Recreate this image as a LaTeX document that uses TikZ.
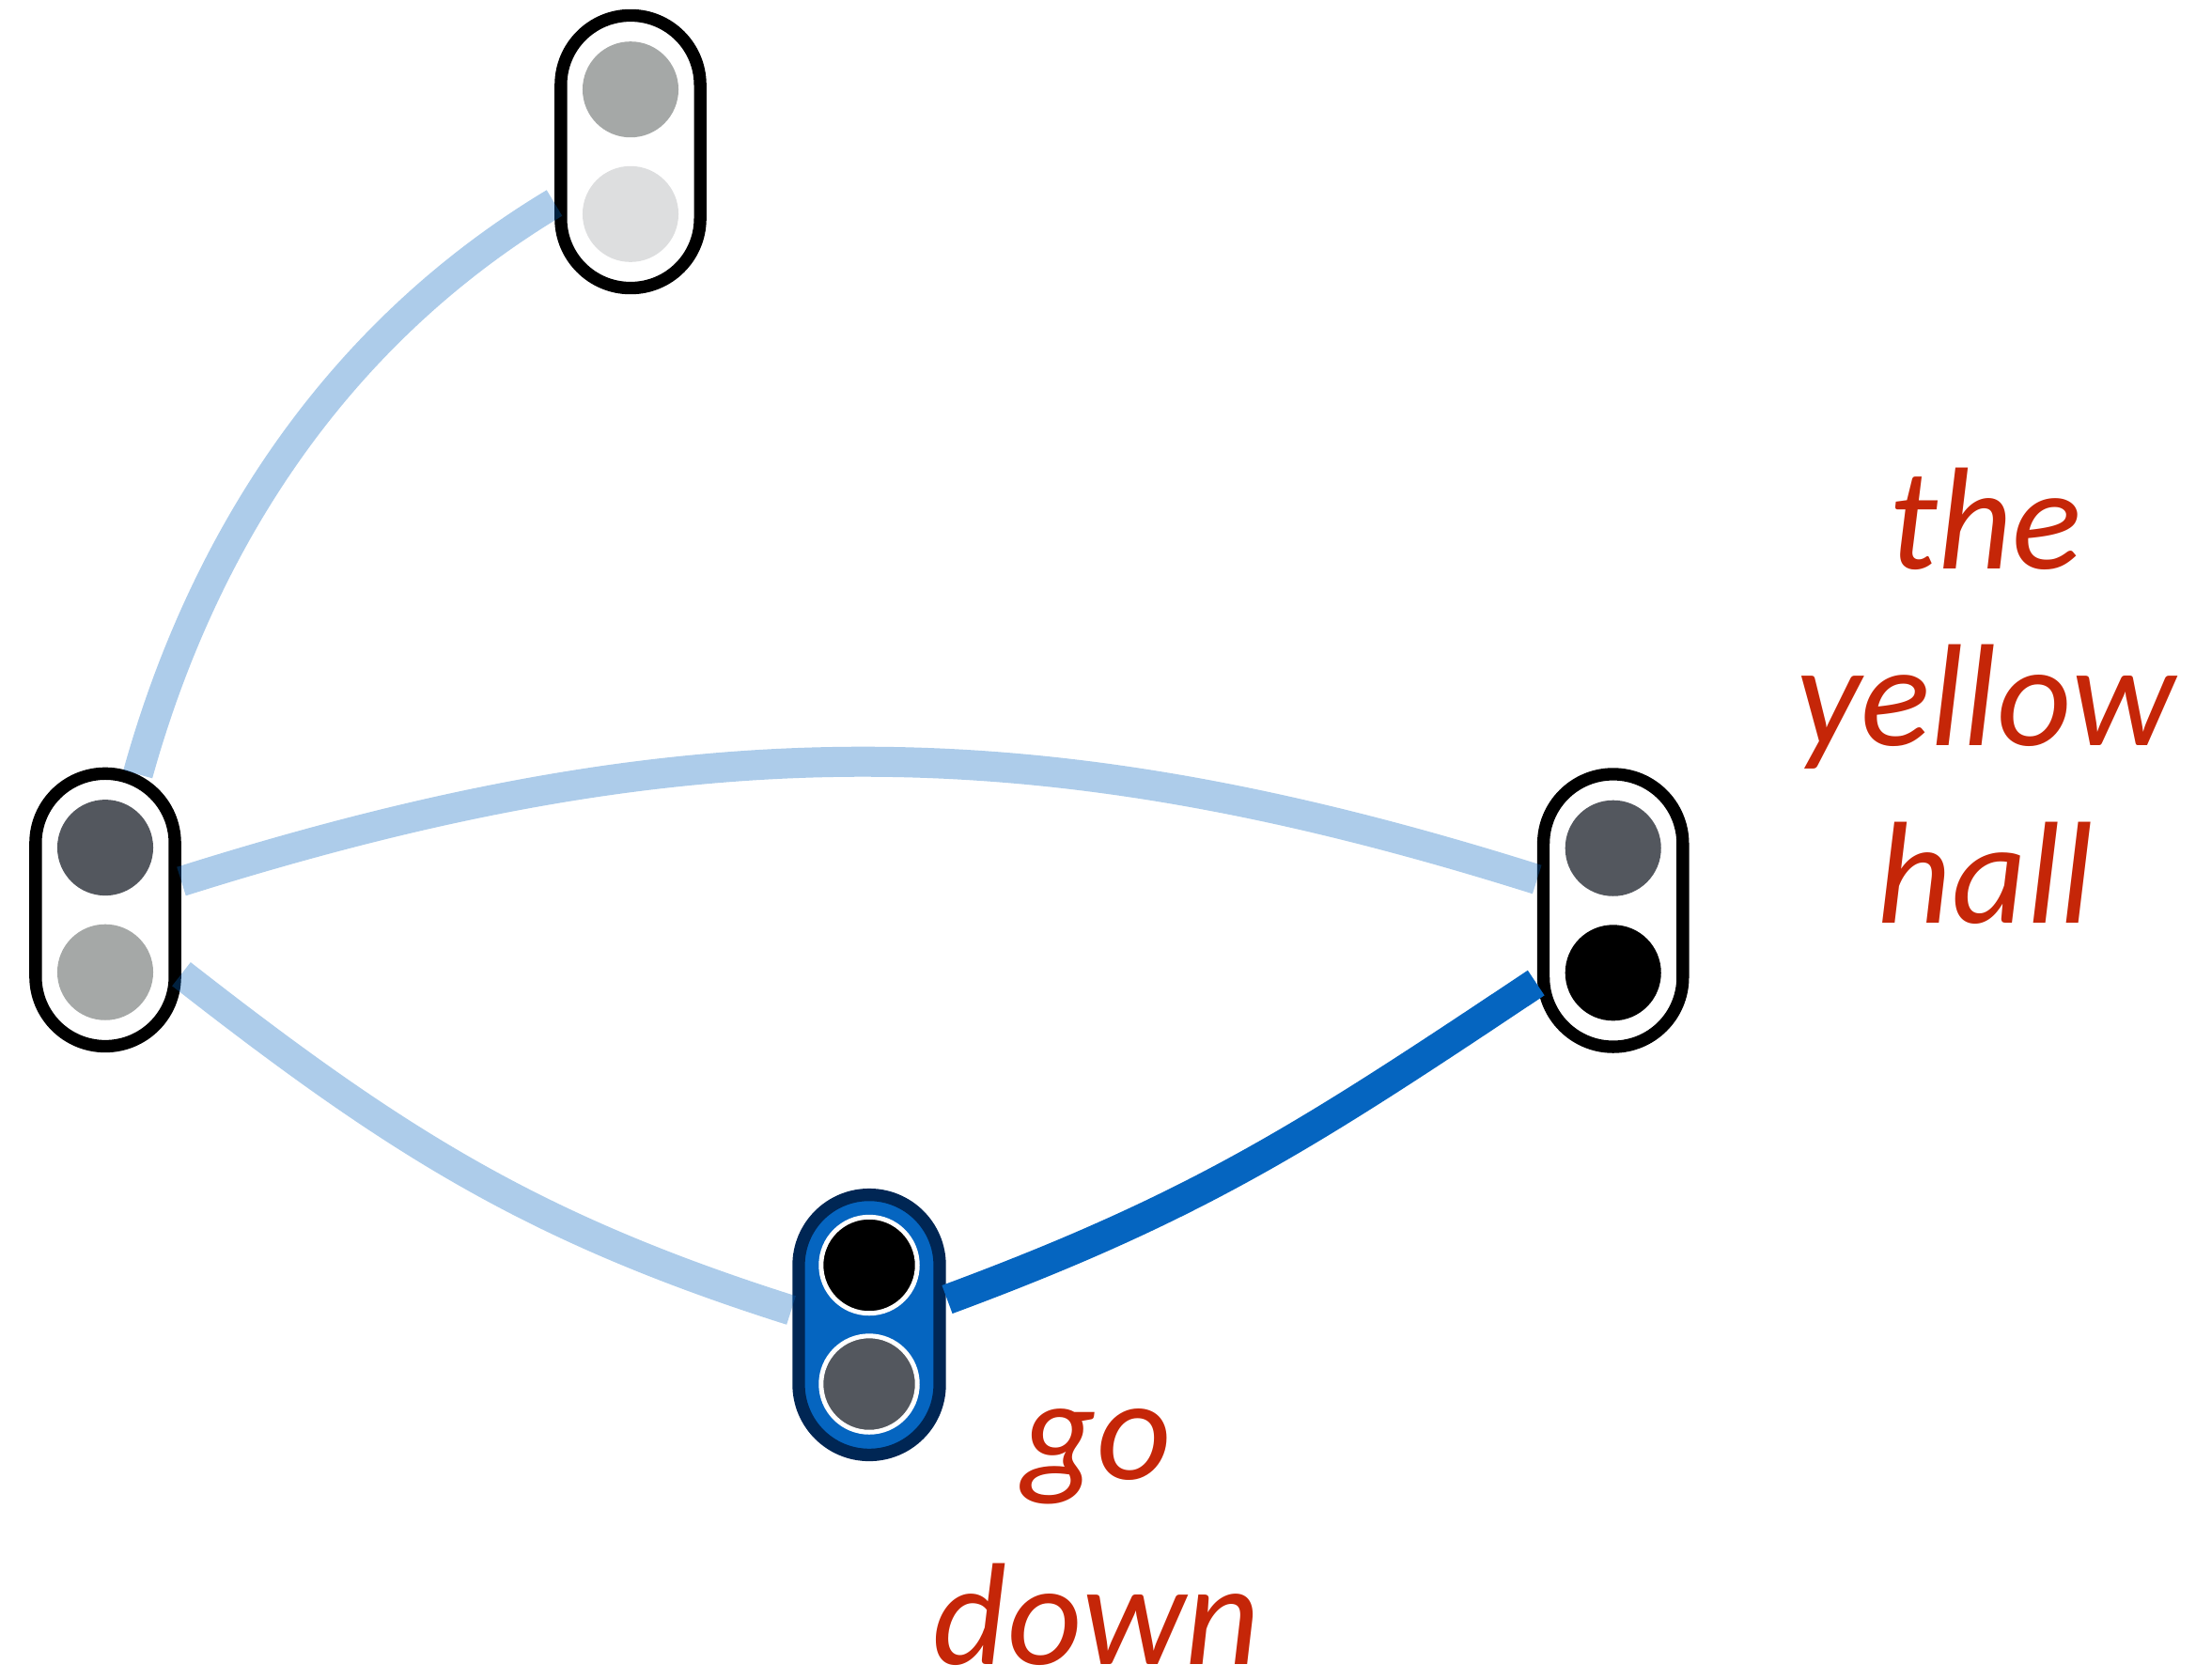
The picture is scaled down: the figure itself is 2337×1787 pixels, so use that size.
\documentclass[tikz,border=0pt]{standalone}
\usepackage{fontspec}
\setmainfont{Carlito}
\usetikzlibrary{calc}
\definecolor{lampdark}{RGB}{83,87,94}
\definecolor{lampmid}{RGB}{165,168,167}
\definecolor{lamplight}{RGB}{221,222,223}
\definecolor{selblue}{RGB}{5,101,192}
\definecolor{selnavy}{RGB}{0,38,84}
\definecolor{labelred}{RGB}{197,38,8}
\tikzset{
  lightbox/.style={rectangle, draw=black, fill=white, line width=0.133cm,
    minimum width=1.482cm, minimum height=2.90cm, rounded corners=0.74cm, inner sep=0pt},
  selbox/.style={rectangle, draw=selnavy, fill=selblue, line width=0.133cm,
    minimum width=1.50cm, minimum height=2.767cm, rounded corners=0.749cm, inner sep=0pt},
  lamp/.style={circle, minimum size=1.02cm, inner sep=0pt, draw=none, fill=#1},
  sellamp/.style={circle, minimum size=1.024cm, inner sep=0pt, draw=white, line width=0.05cm, fill=#1},
  faint/.style={draw=selblue, draw opacity=0.33, line width=0.32cm},
  strong/.style={draw=selblue, line width=0.32cm},
  wordlabel/.style={text=labelred, align=center, inner sep=0pt, anchor=base}
}
\begin{document}
\begin{tikzpicture}[x=0.01cm, y=-0.01cm]
\path[use as bounding box] (0,0) rectangle (2337,1787);
% traffic-light nodes
\node[lightbox] (A) at (671,161.5) {};
\node[lamp=lampmid] (A1) at ($(A)+(0,-66.3)$) {};
\node[lamp=lamplight] (A2) at ($(A)+(0,66.3)$) {};
\node[lightbox] (B) at (112,968.4) {};
\node[lamp=lampdark] (B1) at ($(B)+(0,-66.3)$) {};
\node[lamp=lampmid] (B2) at ($(B)+(0,66.3)$) {};
\node[lightbox] (D) at (1716.7,969) {};
\node[lamp=lampdark] (D1) at ($(D)+(0,-66.3)$) {};
\node[lamp=black] (D2) at ($(D)+(0,66.3)$) {};
\node[selbox] (C) at (925,1410) {};
\node[sellamp=black] (C1) at ($(C)+(0,-63.5)$) {};
\node[sellamp=lampdark] (C2) at ($(C)+(0,63)$) {};
% connectors
\draw[faint] ($(B)+(34.7,-144.4)$) .. controls +(70.9,-255.4) and +(-227.2,136.5) .. ($(A)+(-81,54.5)$);
\draw[faint] ($(B)+(81,-30.4)$) .. controls +(534,-168.4) and +(-534,-168.4) .. ($(D)+(-81,-33)$);
\draw[faint] ($(B)+(81,68.3)$) .. controls +(228.1,178.2) and +(-275.9,-87.5) .. ($(C)+(-83,-15.5)$);
\draw[strong] ($(C)+(83,-27)$) .. controls +(270,-100) and +(-240,160) .. ($(D)+(-82,77)$);
% labels
\node[wordlabel, font=\fontsize{44}{53.5}\selectfont\itshape] (L1) at (2113,982) {the\\yellow\\hall};
\node[wordlabel, font=\fontsize{44}{56}\selectfont\itshape] (L2) at (1167,1771) {go\\down};
\end{tikzpicture}
\end{document}
